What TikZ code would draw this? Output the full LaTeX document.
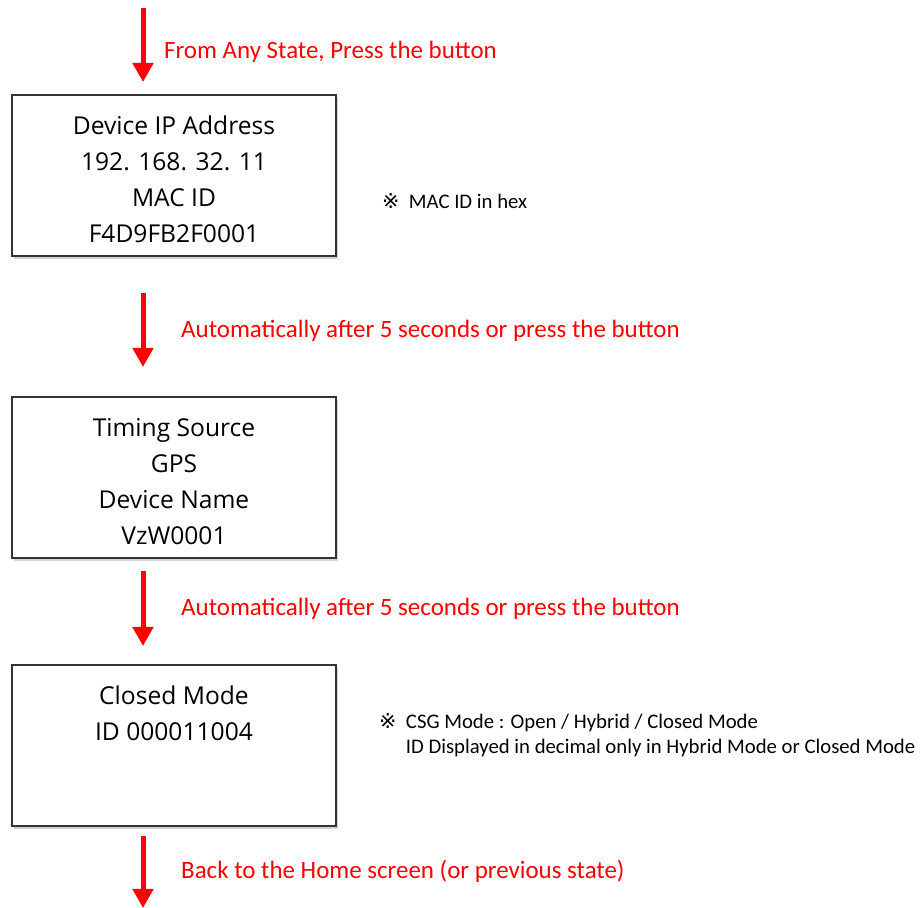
\documentclass[tikz,border=0pt]{standalone}
\usepackage{fontspec}
\setmainfont{Carlito}
\newfontfamily\boxfont{Open Sans}
\newfontfamily\markfont{DejaVu Sans}
\usetikzlibrary{arrows.meta, shadows}
\newcommand{\screentop}{\rule{0pt}{1.05em}}

\begin{document}
\begin{tikzpicture}

		% Setup the styles for the screens and the steps
		\tikzset{screen style/.style={draw=black!80,
				line width=0.04cm,
				fill=white,
				drop shadow={opacity=0.35, shadow xshift=0.04cm, shadow yshift=-0.06cm},
				minimum width=6.48cm,
				minimum height=3.22cm,
				align=center,
				font=\boxfont\fontsize{14}{20.5}\selectfont},
			step label/.style={anchor=west, text=red, font=\fontsize{14.2}{17}\selectfont},
			note label/.style={anchor=west, align=left, font=\fontsize{11.8}{14.2}\selectfont},
			step arrow/.style={draw=red, line width=0.1cm, -{Triangle[width=0.4cm,length=0.38cm]}}}

		\useasboundingbox (0,0) rectangle (18.46,-18.16);

		% Draw the screens
		\node[screen style] at (3.48, -3.51)  (address) {\screentop Device IP Address\\192. 168. 32. 11\\MAC ID\\F4D9FB2F0001};
		\node[screen style] at (3.48, -9.55)  (timing)  {\screentop Timing Source\\GPS\\Device Name\\VzW0001};
		\node[screen style] at (3.48, -14.91) (mode)    {\screentop Closed Mode\\ID 000011004\\~\\~};

		% Free ends of the first and the last arrow
		\coordinate (start) at (2.86, -0.16);
		\coordinate (home)  at (2.86, -18.16);

		% Connect the screens with arrows
		\draw[step arrow, shorten >=0.24cm] (start) -- (start |- address.north);
		\draw[step arrow, shorten <=0.72cm, shorten >=0.58cm] (start |- address.south) -- (start |- timing.north);
		\draw[step arrow, shorten <=0.24cm, shorten >=0.36cm] (start |- timing.south) -- (start |- mode.north);
		\draw[step arrow, shorten <=0.18cm] (start |- mode.south) -- (home);

		% Labels of the steps
		\node[step label] at (3.16, -1.03)  (press)  {From Any State, Press the button};
		\node[step label] at (3.50, -6.61)  (auto1)  {Automatically after 5 seconds or press the button};
		\node[step label] at (3.50, -12.17) (auto2)  {Automatically after 5 seconds or press the button};
		\node[step label] at (3.50, -17.42) (back)   {Back to the Home screen (or previous state)};

		% Notes
		\node[note label] at (7.52, -4.02) (hexnote) {{\markfont ※}\ \ MAC ID in hex};
		\node[note label] at (7.46, -14.71) (csgnote) {{\markfont ※}\ \ CSG Mode : Open / Hybrid / Closed Mode\\
			\phantom{{\markfont ※}\ \ }ID Displayed in decimal only in Hybrid Mode or Closed Mode};
\end{tikzpicture}
\end{document}
